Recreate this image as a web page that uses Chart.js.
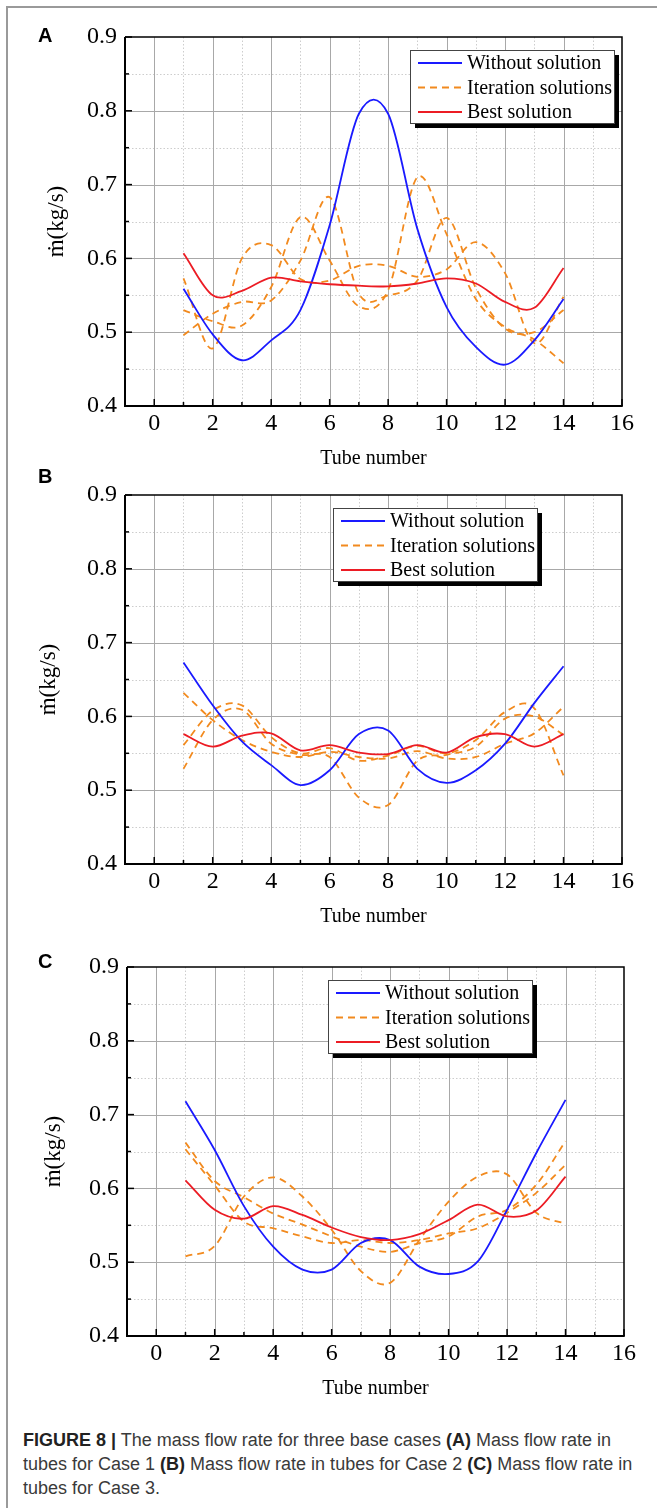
<!DOCTYPE html>
<html>
<head>
<meta charset="utf-8">
<title>Mass flow rate in tubes</title>
<script src="https://cdn.jsdelivr.net/npm/chart.js@4.4.1/dist/chart.umd.min.js"></script>
<style>
  html, body { margin: 0; padding: 0; background: #fff; }
  #page { position: relative; width: 657px; height: 1508px; overflow: hidden; background: #fff; }
  #page canvas { position: absolute; }
  .frame-left { position: absolute; left: 6px; top: 6px; height: 1502px; border-left: 2px solid #9a9a9a; }
  .frame-top { position: absolute; left: 6px; top: 6px; width: 651px; border-top: 2px solid #9a9a9a; }
  .panel-tag { position: absolute; font: bold 20px "Liberation Sans", Arial, sans-serif; color: #000; line-height: 23px; }
  #caption { position: absolute; left: 23px; top: 1428px; font: 18px/24px "Liberation Sans", Arial, sans-serif; color: #3a3a3a; white-space: nowrap; }
  #caption b { color: #222; }
</style>
</head>
<body>
<div id="page">
  <div class="frame-left"></div>
  <div class="frame-top"></div>

  <canvas id="chartA" width="657" height="475" style="left:0;top:0"></canvas>
  <canvas id="chartB" width="657" height="475" style="left:0;top:458px"></canvas>
  <canvas id="chartC" width="657" height="475" style="left:2px;top:930px"></canvas>

  <div class="panel-tag" style="left:38px;top:24px">A</div>
  <div class="panel-tag" style="left:38px;top:465px">B</div>
  <div class="panel-tag" style="left:38px;top:950px">C</div>

  <div id="caption">
    <b>FIGURE 8 |</b> The mass flow rate for three base cases <b>(A)</b> Mass flow rate in<br>
    tubes for Case 1 <b>(B)</b> Mass flow rate in tubes for Case 2 <b>(C)</b> Mass flow rate in<br>
    tubes for Case 3.
  </div>
</div>

<script>
// ==========================================
// 1. DATA
// ==========================================

const TUBES = [1, 2, 3, 4, 5, 6, 7, 8, 9, 10, 11, 12, 13, 14];

const X_TICKS = [0, 2, 4, 6, 8, 10, 12, 14, 16];
const X_MINOR = [1, 3, 5, 7, 9, 11, 13, 15];
const Y_TICKS = [0.4, 0.5, 0.6, 0.7, 0.8, 0.9];
const Y_MINOR = [0.45, 0.55, 0.65, 0.75, 0.85];

// Case 1
const A_WITHOUT = [0.559, 0.497, 0.462, 0.489, 0.530, 0.645, 0.796, 0.796, 0.640, 0.534, 0.480, 0.456, 0.489, 0.545];
const A_BEST    = [0.607, 0.550, 0.556, 0.574, 0.569, 0.565, 0.563, 0.562, 0.566, 0.573, 0.566, 0.541, 0.533, 0.587];
const A_ITER_1  = [0.573, 0.478, 0.600, 0.618, 0.572, 0.570, 0.590, 0.590, 0.575, 0.585, 0.622, 0.580, 0.485, 0.548];
const A_ITER_2  = [0.530, 0.515, 0.509, 0.561, 0.656, 0.597, 0.535, 0.557, 0.710, 0.633, 0.545, 0.507, 0.490, 0.458];
const A_ITER_3  = [0.496, 0.525, 0.541, 0.543, 0.597, 0.683, 0.552, 0.550, 0.570, 0.655, 0.560, 0.505, 0.500, 0.530];

// Case 2
const B_WITHOUT = [0.673, 0.615, 0.566, 0.534, 0.507, 0.527, 0.576, 0.581, 0.529, 0.510, 0.527, 0.563, 0.618, 0.668];
const B_BEST    = [0.576, 0.559, 0.574, 0.577, 0.554, 0.561, 0.551, 0.549, 0.561, 0.551, 0.572, 0.576, 0.559, 0.576];
const B_ITER_1  = [0.632, 0.595, 0.568, 0.552, 0.545, 0.552, 0.545, 0.543, 0.553, 0.543, 0.545, 0.563, 0.577, 0.613];
const B_ITER_2  = [0.561, 0.608, 0.615, 0.572, 0.550, 0.557, 0.540, 0.547, 0.560, 0.550, 0.568, 0.606, 0.611, 0.520];
const B_ITER_3  = [0.529, 0.595, 0.609, 0.563, 0.548, 0.545, 0.490, 0.480, 0.540, 0.548, 0.559, 0.597, 0.600, 0.575];

// Case 3
const C_WITHOUT = [0.718, 0.652, 0.576, 0.521, 0.490, 0.490, 0.526, 0.530, 0.494, 0.484, 0.501, 0.571, 0.648, 0.720];
const C_BEST    = [0.611, 0.571, 0.559, 0.576, 0.564, 0.547, 0.534, 0.530, 0.538, 0.557, 0.578, 0.562, 0.570, 0.616];
const C_ITER_1  = [0.508, 0.522, 0.589, 0.615, 0.589, 0.544, 0.488, 0.472, 0.530, 0.582, 0.616, 0.619, 0.567, 0.552];
const C_ITER_2  = [0.662, 0.610, 0.588, 0.566, 0.551, 0.535, 0.521, 0.514, 0.526, 0.535, 0.562, 0.571, 0.605, 0.664];
const C_ITER_3  = [0.653, 0.604, 0.555, 0.546, 0.535, 0.526, 0.530, 0.526, 0.530, 0.539, 0.546, 0.567, 0.594, 0.632];

// ==========================================
// 2. STYLES
// ==========================================

const BLUE = "#1a1aff";
const RED = "#ec1c24";
const ORANGE = "#f28a1e";
const SERIF = '"Liberation Serif", "Times New Roman", serif';

// ==========================================
// 3. PLUGINS (smoothing, grid, frame, boxed legend)
// ==========================================

// spline in x (like Origin's): tangent = central difference, handles at 1/3 of the gap
const xSpline = {
    id: "xSpline",
    beforeDatasetsDraw(chart) {
        chart.getSortedVisibleDatasetMetas().forEach((meta) => {
            const line = meta.dataset;
            const pts = meta.data;
            if (!line || !line.updateControlPoints) return;
            line.updateControlPoints(chart.chartArea, meta.iScale.axis);
            pts.forEach((p, i) => {
                const prev = pts[i - 1] || p;
                const next = pts[i + 1] || p;
                const m = (next.y - prev.y) / (next.x - prev.x);
                const dPrev = p.x - prev.x;
                const dNext = next.x - p.x;
                p.cp1x = p.x - dPrev / 3;
                p.cp1y = p.y - (m * dPrev) / 3;
                p.cp2x = p.x + dNext / 3;
                p.cp2y = p.y + (m * dNext) / 3;
            });
        });
    },
};

const paperGrid = {
    id: "paperGrid",
    beforeDatasetsDraw(chart) {
        const { ctx, chartArea: a, scales: { x, y } } = chart;
        ctx.save();
        ctx.lineWidth = 1;

        // minor dotted lines
        ctx.strokeStyle = "#cdcdcd";
        ctx.setLineDash([1.5, 2]);
        X_MINOR.forEach((v) => {
            const px = Math.round(x.getPixelForValue(v)) + 0.5;
            ctx.beginPath(); ctx.moveTo(px, a.top); ctx.lineTo(px, a.bottom); ctx.stroke();
        });
        Y_MINOR.forEach((v) => {
            const py = Math.round(y.getPixelForValue(v)) + 0.5;
            ctx.beginPath(); ctx.moveTo(a.left, py); ctx.lineTo(a.right, py); ctx.stroke();
        });

        // major solid lines
        ctx.setLineDash([]);
        ctx.strokeStyle = "#a8a8a8";
        X_TICKS.filter((v) => v < x.max).forEach((v) => {
            const px = Math.round(x.getPixelForValue(v)) + 0.5;
            ctx.beginPath(); ctx.moveTo(px, a.top); ctx.lineTo(px, a.bottom); ctx.stroke();
        });
        Y_TICKS.filter((v) => v > y.min && v < y.max).forEach((v) => {
            const py = Math.round(y.getPixelForValue(v)) + 0.5;
            ctx.beginPath(); ctx.moveTo(a.left, py); ctx.lineTo(a.right, py); ctx.stroke();
        });
        ctx.restore();
    },
};

const axisFrame = {
    id: "axisFrame",
    afterDatasetsDraw(chart) {
        const { ctx, chartArea: a, scales: { x, y } } = chart;
        ctx.save();
        ctx.strokeStyle = "#000";

        // top and right edges
        ctx.lineWidth = 1.5;
        ctx.beginPath();
        ctx.moveTo(a.left, a.top); ctx.lineTo(a.right, a.top); ctx.lineTo(a.right, a.bottom);
        ctx.stroke();

        // inward ticks
        const tick = (px, len) => { ctx.beginPath(); ctx.moveTo(px, a.bottom); ctx.lineTo(px, a.bottom - len); ctx.stroke(); };
        X_TICKS.forEach((v) => tick(x.getPixelForValue(v), 7));
        X_MINOR.forEach((v) => tick(x.getPixelForValue(v), 4));
        const ytick = (py, len) => { ctx.beginPath(); ctx.moveTo(a.left, py); ctx.lineTo(a.left + len, py); ctx.stroke(); };
        Y_TICKS.forEach((v) => ytick(y.getPixelForValue(v), 7));
        Y_MINOR.forEach((v) => ytick(y.getPixelForValue(v), 4));

        // left and bottom axes
        ctx.lineWidth = 2;
        ctx.beginPath();
        ctx.moveTo(a.left, a.top); ctx.lineTo(a.left, a.bottom); ctx.lineTo(a.right + 0.75, a.bottom);
        ctx.stroke();
        ctx.restore();
    },
};

const boxLegend = {
    id: "boxLegend",
    afterDraw(chart, args, opts) {
        const { ctx, chartArea: a } = chart;
        const x0 = a.left + opts.dx;
        const y0 = a.top + opts.dy;
        const w = 204, h = 73;
        ctx.save();
        ctx.fillStyle = "#000";
        ctx.fillRect(x0 + 5, y0 + 5, w, h);
        ctx.fillStyle = "#fff";
        ctx.fillRect(x0, y0, w, h);
        ctx.strokeStyle = "#444";
        ctx.lineWidth = 1;
        ctx.strokeRect(x0 + 0.5, y0 + 0.5, w, h);

        ctx.font = "20px " + SERIF;
        ctx.textBaseline = "middle";
        ctx.fillStyle = "#000";
        opts.items.forEach((it, i) => {
            const ds = chart.data.datasets[it.ds];
            const yy = y0 + 13 + i * 24.5;
            ctx.strokeStyle = ds.borderColor;
            ctx.lineWidth = ds.borderWidth;
            ctx.setLineDash(ds.borderDash || []);
            ctx.beginPath(); ctx.moveTo(x0 + 8, yy); ctx.lineTo(x0 + 52, yy); ctx.stroke();
            ctx.setLineDash([]);
            ctx.fillText(it.text, x0 + 57, yy + 1);
        });
        ctx.restore();
    },
};

// ==========================================
// 4. CHART BUILDING
// ==========================================

function pontos(vals) {
    return TUBES.map((t, i) => ({ x: t, y: vals[i] }));
}

function montarDatasets(best, without, iters) {
    const sets = [
        { label: "Best solution", data: pontos(best), borderColor: RED, borderWidth: 1.8 },
        { label: "Without solution", data: pontos(without), borderColor: BLUE, borderWidth: 1.8 },
    ];
    iters.forEach((v) => {
        sets.push({ label: "Iteration solutions", data: pontos(v), borderColor: ORANGE, borderWidth: 1.8, borderDash: [7, 5] });
    });
    sets.forEach((s) => { s.pointRadius = 0; s.tension = 0.4; s.fill = false; });
    return sets;
}

function criarPainel(canvasId, best, without, iters, legendPos, yTitlePad) {
    return new Chart(document.getElementById(canvasId), {
        type: "line",
        data: { datasets: montarDatasets(best, without, iters) },
        options: {
            responsive: false,
            animation: false,
            events: [],
            layout: { padding: { top: 37, right: 35, left: 0, bottom: 0 } },
            plugins: {
                legend: { display: false },
                tooltip: { enabled: false },
                boxLegend: {
                    dx: legendPos.dx,
                    dy: legendPos.dy,
                    items: [
                        { text: "Without solution", ds: 1 },
                        { text: "Iteration solutions", ds: 2 },
                        { text: "Best solution", ds: 0 },
                    ],
                },
            },
            scales: {
                x: {
                    type: "linear",
                    min: -1,
                    max: 16,
                    afterBuildTicks: (s) => { s.ticks = X_TICKS.map((v) => ({ value: v })); },
                    afterFit: (s) => { s.height = 69; },
                    grid: { display: false, drawTicks: false },
                    border: { display: false },
                    ticks: { padding: 3, color: "#000", autoSkip: false, maxRotation: 0, font: { family: SERIF, size: 24 } },
                    title: { display: true, text: "Tube number", color: "#000", font: { family: SERIF, size: 20 }, padding: { top: 0, bottom: 4 } },
                },
                y: {
                    type: "linear",
                    min: 0.4,
                    max: 0.9,
                    afterBuildTicks: (s) => { s.ticks = Y_TICKS.map((v) => ({ value: v })); },
                    afterFit: (s) => { s.width = 125; },
                    grid: { display: false, drawTicks: false },
                    border: { display: false },
                    ticks: { padding: 8, color: "#000", font: { family: SERIF, size: 24 }, callback: (v) => Number(v).toFixed(1) },
                    title: { display: true, text: "ṁ(kg/s)", color: "#000", font: { family: SERIF, size: 23 }, padding: { top: yTitlePad, bottom: 0 } },
                },
            },
        },
        plugins: [xSpline, paperGrid, axisFrame, boxLegend],
    });
}

// ==========================================
// 5. INIT
// ==========================================

criarPainel("chartA", A_BEST, A_WITHOUT, [A_ITER_1, A_ITER_2, A_ITER_3], { dx: 285, dy: 13 }, 43);
criarPainel("chartB", B_BEST, B_WITHOUT, [B_ITER_1, B_ITER_2, B_ITER_3], { dx: 208, dy: 13 }, 35);
criarPainel("chartC", C_BEST, C_WITHOUT, [C_ITER_1, C_ITER_2, C_ITER_3], { dx: 201, dy: 13 }, 38);
</script>
</body>
</html>
